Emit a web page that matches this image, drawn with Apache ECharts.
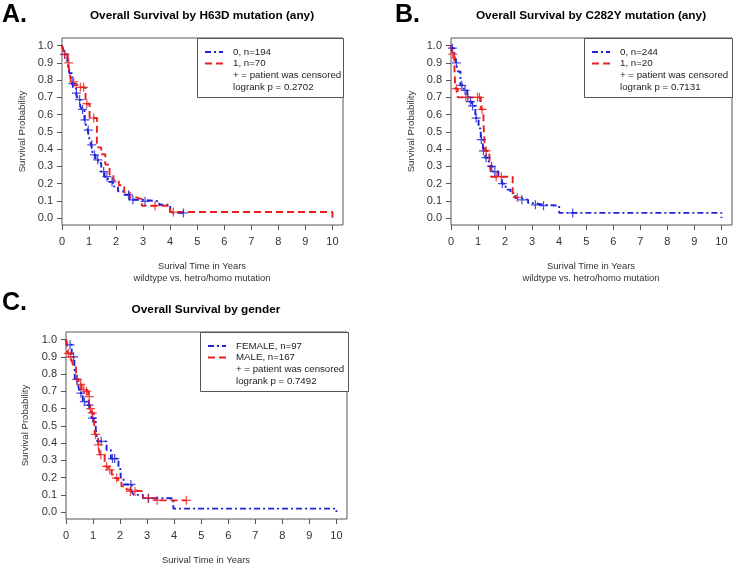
<!DOCTYPE html>
<html><head><meta charset="utf-8">
<script src="https://cdn.jsdelivr.net/npm/echarts@6/dist/echarts.min.js"></script>
<style>html,body{margin:0;padding:0;background:#fff}#c{width:733px;height:566px}</style>
</head><body><div id="c"></div><script>
// ---- tick labels ----
const xTicks = [0, 1, 2, 3, 4, 5, 6, 7, 8, 9, 10];
const yTicks = [0, 0.1, 0.2, 0.3, 0.4, 0.5, 0.6, 0.7, 0.8, 0.9, 1.0];

// ---- Panel A: H63D ----
const aWtTime = [0, 0.03, 0.09, 0.2, 0.27, 0.37, 0.42, 0.52, 0.58, 0.67, 0.74, 0.83, 0.89, 0.95, 1.02, 1.08, 1.14, 1.24, 1.33, 1.45, 1.57, 1.7, 1.88, 2.07, 2.26, 2.5, 2.95, 3.6, 4.0, 4.5];
const aWtSurv = [1.0, 0.985, 0.95, 0.9, 0.84, 0.78, 0.755, 0.725, 0.687, 0.648, 0.63, 0.57, 0.54, 0.51, 0.455, 0.425, 0.367, 0.338, 0.32, 0.27, 0.24, 0.21, 0.184, 0.155, 0.135, 0.106, 0.097, 0.077, 0.03, 0.03];
const aWtCens = [0.1, 0.4, 0.53, 0.65, 0.76, 0.85, 0.97, 1.1, 1.2, 1.32, 1.54, 1.66, 1.85, 2.46, 2.62, 3.07, 4.49];
const aMutTime = [0, 0.04, 0.09, 0.21, 0.27, 0.33, 0.46, 0.64, 0.87, 1.02, 1.29, 1.45, 1.6, 1.76, 1.9, 2.1, 2.3, 2.5, 2.75, 2.95, 4.0, 10];
const aMutSurv = [1.0, 0.975, 0.948, 0.9, 0.86, 0.79, 0.77, 0.758, 0.663, 0.58, 0.41, 0.37, 0.31, 0.25, 0.22, 0.19, 0.15, 0.12, 0.11, 0.072, 0.035, 0.0];
const aMutCens = [0.1, 0.25, 0.43, 0.68, 0.8, 0.92, 1.17, 3.44, 4.12];

// ---- Panel B: C282Y ----
const bWtTime = [0, 0.03, 0.12, 0.19, 0.25, 0.35, 0.47, 0.6, 0.68, 0.78, 0.9, 1.02, 1.1, 1.18, 1.27, 1.4, 1.55, 1.75, 1.88, 2.02, 2.2, 2.38, 2.6, 2.85, 3.1, 3.4, 4.0, 10];
const bWtSurv = [1.0, 0.985, 0.94, 0.9, 0.85, 0.77, 0.74, 0.7, 0.675, 0.65, 0.58, 0.52, 0.455, 0.39, 0.35, 0.3, 0.27, 0.24, 0.2, 0.165, 0.145, 0.116, 0.106, 0.087, 0.077, 0.072, 0.03, 0.0];
const bWtCens = [0.05, 0.2, 0.4, 0.52, 0.62, 0.72, 0.8, 0.93, 1.12, 1.2, 1.3, 1.5, 1.62, 1.9, 2.62, 3.12, 3.42, 4.5];
const bMutTime = [0, 0.04, 0.12, 0.16, 0.25, 1.1, 1.2, 1.26, 1.42, 1.48, 2.28, 2.48];
const bMutSurv = [1.0, 0.95, 0.9, 0.75, 0.7, 0.63, 0.55, 0.39, 0.35, 0.24, 0.12, 0.12];
const bMutCens = [0.06, 0.2, 0.55, 0.98, 1.05, 1.15, 1.3, 1.67, 1.86, 2.45];

// ---- Panel C: gender ----
const cFemTime = [0, 0.03, 0.21, 0.31, 0.33, 0.45, 0.5, 0.62, 0.76, 0.88, 0.95, 1.1, 1.16, 1.5, 1.66, 1.94, 2.02, 2.13, 2.43, 2.5, 2.85, 3.97, 10];
const cFemSurv = [1.0, 0.97, 0.9, 0.845, 0.77, 0.74, 0.69, 0.64, 0.62, 0.594, 0.545, 0.48, 0.41, 0.36, 0.31, 0.25, 0.2, 0.16, 0.12, 0.1, 0.08, 0.02, 0.0];
const cFemCens = [0.15, 0.28, 0.4, 0.55, 0.68, 0.85, 0.98, 1.3, 1.72, 1.8, 2.4, 3.05];
const cMalTime = [0, 0.03, 0.05, 0.15, 0.21, 0.27, 0.37, 0.46, 0.58, 0.7, 0.82, 0.88, 0.95, 1.03, 1.07, 1.19, 1.25, 1.43, 1.56, 1.69, 1.81, 1.93, 2.05, 2.24, 2.36, 2.85, 3.3, 4.45];
const cMalSurv = [1.0, 0.985, 0.92, 0.9, 0.88, 0.845, 0.77, 0.74, 0.71, 0.7, 0.67, 0.6, 0.575, 0.536, 0.45, 0.39, 0.333, 0.265, 0.245, 0.217, 0.197, 0.178, 0.149, 0.13, 0.12, 0.081, 0.068, 0.068];
const cMalCens = [0.09, 0.17, 0.42, 0.54, 0.66, 0.76, 0.86, 0.91, 0.97, 1.09, 1.2, 1.29, 1.5, 1.62, 1.87, 2.38, 2.55, 3.04, 3.37, 4.45];

// ---- texts ----
const panels = [
  {letter: 'A.', title: 'Overall Survival by H63D mutation (any)', sub: 'wildtype vs. hetro/homo mutation',
   legend: ['0, n=194', '1, n=70', '+ = patient was censored', 'logrank p = 0.2702'],
   t0: aWtTime, s0: aWtSurv, c0: aWtCens, t1: aMutTime, s1: aMutSurv, c1: aMutCens},
  {letter: 'B.', title: 'Overall Survival by C282Y mutation (any)', sub: 'wildtype vs. hetro/homo mutation',
   legend: ['0, n=244', '1, n=20', '+ = patient was censored', 'logrank p = 0.7131'],
   t0: bWtTime, s0: bWtSurv, c0: bWtCens, t1: bMutTime, s1: bMutSurv, c1: bMutCens},
  {letter: 'C.', title: 'Overall Survival by gender', sub: '',
   legend: ['FEMALE, n=97', 'MALE, n=167', '+ = patient was censored', 'logrank p = 0.7492'],
   t0: cFemTime, s0: cFemSurv, c0: cFemCens, t1: cMalTime, s1: cMalSurv, c1: cMalCens}
];

// ---- layout (pixels) ----
const layout = [
  {gx: 62, gy: 38, letterX: 2, letterY: 15, ylabX: 22, legX: 197, legW: 146},
  {gx: 451, gy: 38, letterX: 395, letterY: 15, ylabX: 411, legX: 584, legW: 148},
  {gx: 66, gy: 332, letterX: 2, letterY: 303, ylabX: 25, legX: 200, legW: 148}
];
const GW = 281, GH = 187;
const BLUE = '#1f22d6', RED = '#e8201f';
const FONT = '"Liberation Sans", Arial, sans-serif';
const BLUE_DASH = [6, 3, 2, 3], RED_DASH = [7, 4];

function survAt(times, surv, t) {
  let s = surv[0];
  for (let i = 0; i < times.length; i++) if (times[i] <= t) s = surv[i];
  return s;
}
const PLUS = 'path://M4.3,0H5.7V4.3H10V5.7H5.7V10H4.3V5.7H0V4.3H4.3Z';

const grid = [], xAxis = [], yAxis = [], series = [], graphic = [];
panels.forEach((p, k) => {
  const L = layout[k];
  grid.push({left: L.gx, top: L.gy, width: GW, height: GH, show: true, borderColor: '#555', borderWidth: 1, backgroundColor: 'transparent', containLabel: false});
  xAxis.push({type: 'value', gridIndex: k, min: 0, max: 10.39, position: 'bottom',
    axisLine: {show: false, onZero: false}, splitLine: {show: false},
    axisTick: {show: true, length: 5, inside: false, customValues: xTicks, lineStyle: {color: '#555'}},
    axisLabel: {show: true, customValues: xTicks, margin: 11, color: '#333', fontSize: 11, fontFamily: FONT, formatter: v => String(Math.round(v))}
  });
  yAxis.push({type: 'value', gridIndex: k, min: -0.04, max: 1.044, position: 'left',
    axisLine: {show: false, onZero: false}, splitLine: {show: false},
    axisTick: {show: true, length: 5, inside: false, customValues: yTicks, lineStyle: {color: '#555'}},
    axisLabel: {show: true, customValues: yTicks, margin: 9, color: '#333', fontSize: 11, fontFamily: FONT, formatter: v => v.toFixed(1)}
  });
  series.push({type: 'line', xAxisIndex: k, yAxisIndex: k, step: 'end', showSymbol: false, silent: true,
    data: p.t0.map((t, i) => [t, p.s0[i]]), lineStyle: {color: BLUE, width: 1.9, type: BLUE_DASH}, z: 3});
  series.push({type: 'line', xAxisIndex: k, yAxisIndex: k, step: 'end', showSymbol: false, silent: true,
    data: p.t1.map((t, i) => [t, p.s1[i]]), lineStyle: {color: RED, width: 1.9, type: RED_DASH}, z: 3});
  series.push({type: 'scatter', xAxisIndex: k, yAxisIndex: k, symbol: PLUS, symbolSize: 9, silent: true,
    data: p.c0.map(t => [t, survAt(p.t0, p.s0, t)]), itemStyle: {color: BLUE, opacity: 0.8}, z: 4});
  series.push({type: 'scatter', xAxisIndex: k, yAxisIndex: k, symbol: PLUS, symbolSize: 9, silent: true,
    data: p.c1.map(t => [t, survAt(p.t1, p.s1, t)]), itemStyle: {color: RED, opacity: 0.8}, z: 4});

  const cx = L.gx + 140;
  graphic.push({type: 'text', x: L.letterX, y: L.letterY, z: 10,
    style: {text: p.letter, font: 'bold 25px ' + FONT, fill: '#000', verticalAlign: 'middle', align: 'left'}});
  graphic.push({type: 'text', x: cx, y: L.gy - 22, z: 10,
    style: {text: p.title, font: 'bold 11.8px ' + FONT, fill: '#000', verticalAlign: 'middle', align: 'center'}});
  graphic.push({type: 'text', x: L.ylabX, y: L.gy + GH / 2, rotation: Math.PI / 2, z: 10,
    style: {text: 'Survival Probability', font: '9.6px ' + FONT, fill: '#333', verticalAlign: 'middle', align: 'center'}});
  graphic.push({type: 'text', x: cx, y: L.gy + GH + 41, z: 10,
    style: {text: 'Surival Time in Years', font: '9.4px ' + FONT, fill: '#333', verticalAlign: 'middle', align: 'center'}});
  if (p.sub) graphic.push({type: 'text', x: cx, y: L.gy + GH + 53, z: 10,
    style: {text: p.sub, font: '9.4px ' + FONT, fill: '#333', verticalAlign: 'middle', align: 'center'}});
  graphic.push({type: 'rect', z: 20, shape: {x: L.legX + 0.5, y: L.gy + 0.5, width: L.legW, height: 59},
    style: {fill: '#fff', stroke: '#555', lineWidth: 1}});
  const rows = [L.gy + 14, L.gy + 25.5, L.gy + 37, L.gy + 49];
  graphic.push({type: 'line', z: 21, shape: {x1: L.legX + 8, y1: rows[0], x2: L.legX + 26, y2: rows[0]},
    style: {stroke: BLUE, lineWidth: 1.8, lineDash: BLUE_DASH}});
  graphic.push({type: 'line', z: 21, shape: {x1: L.legX + 8, y1: rows[1], x2: L.legX + 28, y2: rows[1]},
    style: {stroke: RED, lineWidth: 1.8, lineDash: RED_DASH}});
  p.legend.forEach((txt, i) => {
    graphic.push({type: 'text', z: 21, x: L.legX + 36, y: rows[i],
      style: {text: txt, font: '9.7px ' + FONT, fill: '#222', verticalAlign: 'middle', align: 'left'}});
  });
});

const chart = echarts.init(document.getElementById('c'), null, {renderer: 'canvas'});
chart.setOption({animation: false, backgroundColor: '#fff', grid, xAxis, yAxis, series, graphic});
</script></body></html>
